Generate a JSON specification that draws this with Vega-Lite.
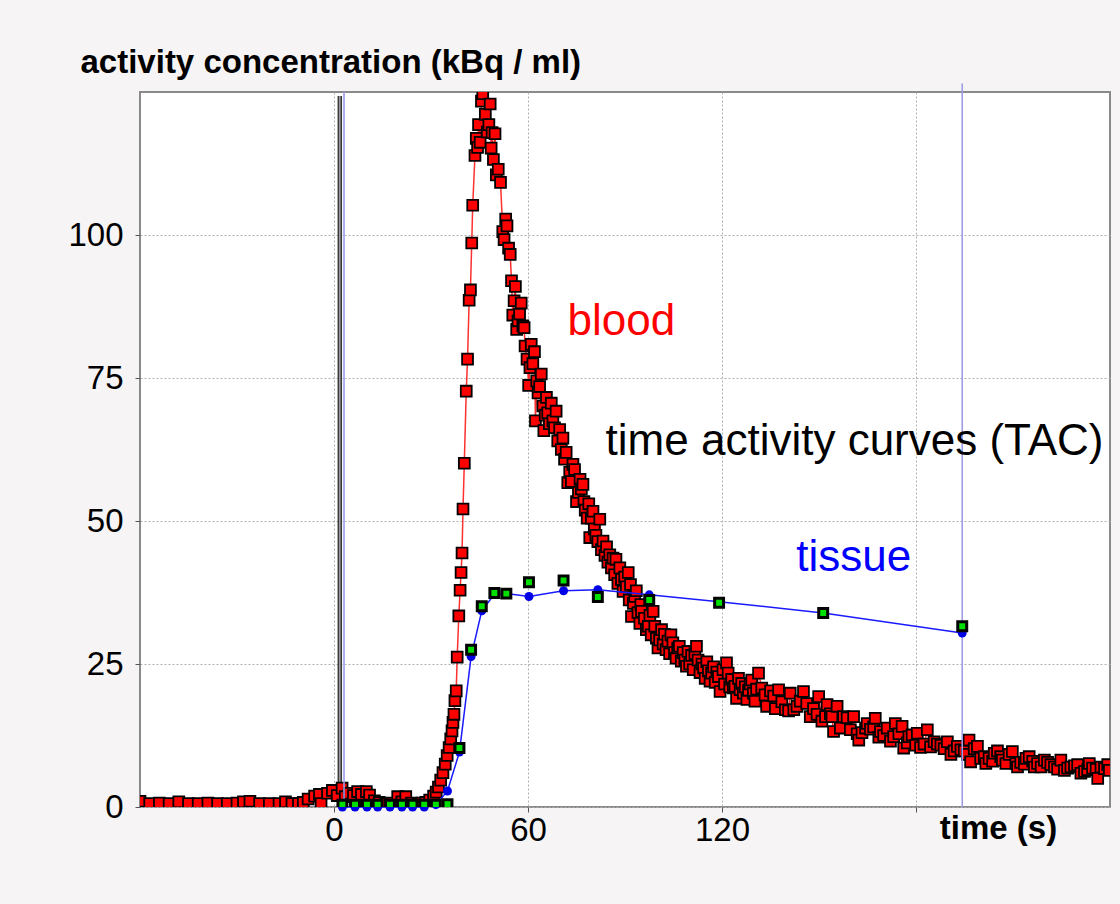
{
  "$schema": "https://vega.github.io/schema/vega-lite/v6.json",
  "width": 970,
  "height": 715,
  "autosize": {"type": "none"},
  "padding": {"left": 140, "top": 92, "right": 10, "bottom": 97},
  "background": "#f6f4f4",
  "config": {
    "view": {"fill": "#ffffff", "stroke": "#8a8a8a", "strokeWidth": 2},
    "font": "Liberation Sans",
    "axis": {
      "grid": true, "gridDash": [2, 2], "gridWidth": 1, "gridColor": "#b0b0b0",
      "domain": false, "ticks": true, "tickSize": 5, "tickColor": "#555555",
      "labelFont": "Liberation Sans", "labelFontSize": 33, "labelColor": "#000000",
      "titleFont": "Liberation Sans", "titleFontSize": 33, "titleFontWeight": "bold", "titleColor": "#000000"
    }
  },
  "datasets": {
    "blood": [
      {"t":-60,"v":1.0},{"t":-57,"v":0.6},{"t":-54,"v":0.7},{"t":-51,"v":0.6},{"t":-48,"v":0.9},{"t":-45,"v":0.6},{"t":-42,"v":0.6},{"t":-39,"v":0.7},{"t":-36,"v":0.6},{"t":-33,"v":0.6},{"t":-30,"v":0.7},{"t":-28,"v":0.9},{"t":-26,"v":1.0},{"t":-23,"v":0.6},{"t":-20,"v":0.6},{"t":-17,"v":0.6},{"t":-15,"v":0.9},{"t":-13,"v":0.6},{"t":-11,"v":0.6},{"t":-9.5,"v":0.8},{"t":-8,"v":1.4},{"t":-6,"v":1.9},{"t":-4.5,"v":2.2},{"t":-4,"v":0.6},{"t":-2,"v":2.4},{"t":-0.5,"v":2.9},{"t":1,"v":2.0},{"t":2.5,"v":3.3},{"t":3.5,"v":1.8},{"t":4.7,"v":2.4},{"t":6,"v":2.0},{"t":7.3,"v":2.7},{"t":8.5,"v":2.2},{"t":10,"v":2.7},{"t":11,"v":2.1},{"t":12.5,"v":1.1},{"t":14,"v":0.8},{"t":16,"v":0.6},{"t":18,"v":0.7},{"t":19.7,"v":1.8},{"t":21,"v":0.9},{"t":22.2,"v":1.8},{"t":24,"v":0.7},{"t":26,"v":0.6},{"t":27.2,"v":0.7},
      {"t":28.4,"v":0.8},{"t":29.6,"v":1.2},{"t":30.8,"v":1.9},{"t":31.6,"v":2.6},{"t":32.3,"v":3.5},{"t":33.0,"v":4.7},{"t":33.7,"v":6.0},{"t":34.4,"v":7.5},{"t":35.0,"v":9.0},{"t":35.6,"v":10.4},{"t":36.1,"v":11.9},{"t":36.5,"v":13.3},{"t":36.8,"v":14.8},{"t":37.1,"v":16.2},{"t":37.4,"v":18.6},{"t":37.8,"v":20.3},{"t":38.1,"v":26.2},{"t":38.6,"v":33.4},{"t":39.0,"v":37.9},{"t":39.3,"v":41.0},{"t":39.6,"v":44.4},{"t":39.9,"v":52.1},{"t":40.3,"v":60.1},{"t":40.9,"v":72.7},{"t":41.3,"v":78.3},{"t":41.8,"v":88.6},{"t":42.2,"v":90.4},{"t":42.6,"v":98.6},{"t":42.9,"v":105.2},{"t":43.6,"v":113.9},{"t":44.0,"v":116.9},{"t":44.4,"v":115.3},{"t":44.7,"v":119.3},{"t":45.2,"v":116.2},{"t":45.6,"v":123.4},{"t":46.0,"v":124.7},
      {"t":46.8,"v":121.1},{"t":47.4,"v":118.0},{"t":47.9,"v":119.3},{"t":48.3,"v":122.9},{"t":48.6,"v":115.2},{"t":48.9,"v":117.9},{"t":49.3,"v":113.2},{"t":49.8,"v":117.7},{"t":50.2,"v":110.5},{"t":50.8,"v":111.5},{"t":51.5,"v":109.2},{"t":52.2,"v":100.6},{"t":52.6,"v":99.2},{"t":53.1,"v":102.8},{"t":53.5,"v":101.6},{"t":54.0,"v":97.7},{"t":54.5,"v":96.6},{"t":54.9,"v":92.0},{"t":55.3,"v":86.0},{"t":55.7,"v":88.5},{"t":56.1,"v":91.0},{"t":56.5,"v":83.5},{"t":56.9,"v":85.0},{"t":57.4,"v":86.2},{"t":57.9,"v":88.1},{"t":58.4,"v":84.1},{"t":58.8,"v":83.8},{"t":59.1,"v":80.6},{"t":59.7,"v":78.3},{"t":60.2,"v":73.7},{"t":60.6,"v":76.8},{"t":61.0,"v":80.9},{"t":61.5,"v":77.5},{"t":62.0,"v":79.6},{"t":62.3,"v":67.5},{"t":62.7,"v":74.5},{"t":63.1,"v":72.4},{"t":63.6,"v":73.5},{"t":64.1,"v":75.7},{"t":64.6,"v":70.1},{"t":64.9,"v":65.8},{"t":65.3,"v":68.5},{"t":65.7,"v":71.6},{"t":66.1,"v":68.9},{"t":66.6,"v":67.0},{"t":67.2,"v":70.6},{"t":67.7,"v":67.5},{"t":68.2,"v":66.3},{"t":68.7,"v":69.2},{"t":69.2,"v":64.0},{"t":69.8,"v":66.0},{"t":70.3,"v":62.5},{"t":70.8,"v":64.5},{"t":71.3,"v":60.8},{"t":71.8,"v":62.0},{"t":72.3,"v":56.7},{"t":72.9,"v":58.5},{"t":73.4,"v":56.9},{"t":73.9,"v":59.9},{"t":74.4,"v":59.0},{"t":75.0,"v":53.4},{"t":75.6,"v":55.0},{"t":76.1,"v":57.3},{"t":76.5,"v":55.6},{"t":77.0,"v":56.4},{"t":77.3,"v":53.4},{"t":77.7,"v":51.9},{"t":78.3,"v":50.5},{"t":78.8,"v":53.0},{"t":79.1,"v":47.1},{"t":79.6,"v":50.5},{"t":80.1,"v":51.7},{"t":80.5,"v":48.6},{"t":81.0,"v":47.5},{"t":81.6,"v":46.4},{"t":82.2,"v":50.3},{"t":82.7,"v":45.0},{"t":83.2,"v":46.5},{"t":83.8,"v":44.0},{"t":84.3,"v":45.5},{"t":84.7,"v":42.8},{"t":85.3,"v":44.1},{"t":85.8,"v":41.8},{"t":86.3,"v":43.5},{"t":86.8,"v":40.6},{"t":87.2,"v":43.3},{"t":87.8,"v":39.1},{"t":88.4,"v":41.8},{"t":88.9,"v":39.8},{"t":89.4,"v":37.7},{"t":89.9,"v":40.2},{"t":90.4,"v":38.5},{"t":91.0,"v":41.0},{"t":91.3,"v":36.2},{"t":91.7,"v":38.9},{"t":92.0,"v":33.3},{"t":92.6,"v":35.6},{"t":93.0,"v":36.8},{"t":93.5,"v":37.8},{"t":94.0,"v":34.0},{"t":94.6,"v":32.1},{"t":94.9,"v":35.4},{"t":95.1,"v":34.2},{"t":96.0,"v":33.0},{"t":96.6,"v":31.0},{"t":97.2,"v":31.6},{"t":97.7,"v":33.5},{"t":98.1,"v":30.1},{"t":98.7,"v":34.2},{"t":99.2,"v":31.6},{"t":99.7,"v":29.5},{"t":100.2,"v":27.8},{"t":100.7,"v":29.2},{"t":101.3,"v":31.0},{"t":101.8,"v":28.5},{"t":102.2,"v":30.2},{"t":102.7,"v":27.5},{"t":103.3,"v":29.0},{"t":103.8,"v":26.8},{"t":104.2,"v":30.1},{"t":104.8,"v":28.7},{"t":105.3,"v":27.0},{"t":105.8,"v":26.0},{"t":106.3,"v":27.8},{"t":106.8,"v":28.1},{"t":107.4,"v":25.5},{"t":108.0,"v":27.0},{"t":108.5,"v":25.7},{"t":109.0,"v":24.6},{"t":109.5,"v":27.2},{"t":110.0,"v":25.0},{"t":110.6,"v":26.5},{"t":111.1,"v":24.0},{"t":111.6,"v":26.8},{"t":112.1,"v":28.1},{"t":112.6,"v":25.7},{"t":113.2,"v":23.5},{"t":113.8,"v":25.0},{"t":114.3,"v":24.3},{"t":114.8,"v":22.5},{"t":115.3,"v":25.4},{"t":115.8,"v":23.8},{"t":116.3,"v":22.0},{"t":116.8,"v":23.4},{"t":117.4,"v":24.5},{"t":117.9,"v":21.8},{"t":118.4,"v":23.6},{"t":118.9,"v":22.8},{"t":119.4,"v":20.2},{"t":120.3,"v":24.0},{"t":120.8,"v":21.5},{"t":121.4,"v":25.2},{"t":121.9,"v":23.4},{"t":122.4,"v":21.0},{"t":123.0,"v":22.3},{"t":123.5,"v":20.8},{"t":124.0,"v":21.1},{"t":124.5,"v":19.0},{"t":125.1,"v":22.5},{"t":125.6,"v":20.5},{"t":126.1,"v":21.6},{"t":126.6,"v":19.9},{"t":127.2,"v":21.0},{"t":127.7,"v":18.8},{"t":128.2,"v":20.4},{"t":128.7,"v":21.5},{"t":129.2,"v":22.2},{"t":129.7,"v":19.9},{"t":130.2,"v":18.5},{"t":130.7,"v":20.6},
      {"t":131.3,"v":23.4},{"t":132.3,"v":20.8},{"t":133.3,"v":19.6},{"t":133.8,"v":17.6},{"t":135.0,"v":20.3},{"t":136.0,"v":19.4},{"t":136.5,"v":17.2},{"t":137.5,"v":20.5},{"t":138.5,"v":18.4},{"t":139.6,"v":17.0},{"t":140.6,"v":16.8},{"t":141.1,"v":19.9},{"t":142.2,"v":17.0},{"t":143.2,"v":17.6},{"t":144.2,"v":18.5},{"t":145.2,"v":20.2},{"t":146.2,"v":18.1},{"t":147.3,"v":15.8},{"t":148.3,"v":17.2},{"t":149.4,"v":16.2},{"t":149.9,"v":19.3},{"t":150.9,"v":15.0},{"t":152.0,"v":15.8},{"t":152.5,"v":17.9},{"t":153.5,"v":16.3},{"t":154.0,"v":15.8},{"t":154.5,"v":13.2},{"t":155.6,"v":17.6},{"t":156.6,"v":13.8},{"t":157.6,"v":15.8},{"t":158.7,"v":15.6},{"t":159.7,"v":13.5},{"t":160.7,"v":15.8},{"t":161.8,"v":12.8},{"t":162.3,"v":11.7},{"t":163.3,"v":13.0},{"t":164.4,"v":13.8},{"t":164.9,"v":14.6},{"t":165.9,"v":13.6},{"t":166.9,"v":14.0},{"t":167.4,"v":15.5},{"t":168.5,"v":12.2},{"t":169.0,"v":13.2},{"t":170.0,"v":12.5},{"t":171.1,"v":13.8},{"t":172.1,"v":11.5},{"t":173.1,"v":12.3},{"t":173.6,"v":14.6},{"t":174.7,"v":12.8},{"t":175.7,"v":14.1},{"t":176.2,"v":10.3},{"t":177.3,"v":11.2},{"t":177.8,"v":12.3},{"t":178.8,"v":12.6},{"t":179.9,"v":10.8},{"t":180.4,"v":12.9},{"t":181.4,"v":10.4},{"t":182.5,"v":11.0},{"t":183.5,"v":13.5},{"t":184.5,"v":10.5},{"t":185.6,"v":11.4},{"t":186.6,"v":11.0},{"t":187.7,"v":10.8},{"t":188.7,"v":10.2},{"t":189.7,"v":11.4},{"t":190.8,"v":9.2},{"t":191.8,"v":9.8},{"t":192.8,"v":10.6},{"t":193.9,"v":10.0},{"t":194.9,"v":9.8},{"t":195.9,"v":9.2},{"t":196.4,"v":11.7},{"t":196.9,"v":7.9},{"t":198.0,"v":10.2},{"t":199.0,"v":10.6},{"t":200.0,"v":8.5},{"t":201.1,"v":8.8},{"t":201.6,"v":7.6},{"t":202.6,"v":8.5},{"t":203.7,"v":8.0},{"t":204.2,"v":9.4},{"t":205.2,"v":9.8},{"t":206.2,"v":8.8},{"t":206.7,"v":8.2},{"t":207.8,"v":7.6},{"t":208.8,"v":9.2},{"t":209.8,"v":9.7},{"t":210.9,"v":7.6},{"t":211.4,"v":7.0},{"t":212.4,"v":7.8},{"t":213.5,"v":7.5},{"t":214.0,"v":8.5},{"t":215.0,"v":8.8},{"t":216.1,"v":8.0},{"t":216.6,"v":7.0},{"t":217.6,"v":7.6},{"t":218.7,"v":7.0},{"t":219.7,"v":8.2},{"t":220.7,"v":7.8},{"t":221.7,"v":7.4},{"t":222.8,"v":7.0},{"t":223.8,"v":6.6},{"t":224.8,"v":8.2},{"t":225.9,"v":6.4},{"t":226.9,"v":6.8},{"t":227.9,"v":7.0},{"t":229.0,"v":7.2},{"t":230.0,"v":7.4},{"t":231.0,"v":5.9},{"t":232.1,"v":6.2},{"t":233.1,"v":6.5},{"t":233.6,"v":7.6},{"t":234.6,"v":6.8},{"t":235.7,"v":6.6},{"t":236.2,"v":5.0},{"t":237.2,"v":7.0},{"t":238.3,"v":6.7},{"t":239.3,"v":7.4},{"t":239.8,"v":6.4}
    ],
    "tissue": [
      {"t":2.6,"fit":0,"meas":0.4},{"t":6.5,"fit":0,"meas":0.4},{"t":10.2,"fit":0,"meas":0.4},{"t":13.5,"fit":0,"meas":0.4},{"t":17.3,"fit":0,"meas":0.4},{"t":21.0,"fit":0,"meas":0.4},{"t":24.3,"fit":0,"meas":0.4},{"t":27.9,"fit":0,"meas":0.4},{"t":31.5,"fit":0.4,"meas":0.4},{"t":35.1,"fit":2.8,"meas":0.5},{"t":38.8,"fit":9.6,"meas":10.3},{"t":42.4,"fit":26.3,"meas":27.5},{"t":45.7,"fit":34.3,"meas":35.1},{"t":49.6,"fit":37.2,"meas":37.4},{"t":53.3,"fit":37.3,"meas":37.3},{"t":60.3,"fit":36.8,"meas":39.3},{"t":71.0,"fit":37.8,"meas":39.6},{"t":81.6,"fit":38.0,"meas":36.7},{"t":97.5,"fit":37.1,"meas":36.2},{"t":119.1,"fit":35.9,"meas":35.7},{"t":151.3,"fit":33.9,"meas":33.9},{"t":194.3,"fit":30.4,"meas":31.6}
    ],
    "markers": [
      {"t":1.8,"y1":0,"y2":124.3,"kind":"frame"},
      {"t":3.1,"y1":0,"y2":125,"kind":"cursor"},
      {"t":194.3,"y1":0,"y2":126.5,"kind":"cursor"}
    ],
    "labels": [
      {"t":72.2,"v":82.5,"text":"blood"},
      {"t":84.0,"v":61.5,"text":"time activity curves (TAC)"},
      {"t":143.0,"v":41.2,"text":"tissue"}
    ]
  },
  "encoding": {
    "x": {
      "field": "t", "type": "quantitative",
      "scale": {"domain": [-60, 240], "nice": false, "zero": false},
      "axis": {
        "values": [0, 60, 120, 180],
        "labelExpr": "datum.value <= 120 ? datum.label : ''",
        "labelPadding": 2,
        "title": "time (s)",
        "titleX": 858, "titleY": 21, "titleAlign": "center", "titleBaseline": "middle"
      }
    }
  },
  "layer": [
    {
      "data": {"name": "markers"},
      "transform": [{"filter": "datum.kind == 'frame'"}],
      "mark": {"type": "rule", "color": "#3a3a3a", "strokeWidth": 4.5},
      "encoding": {
        "y": {
          "field": "y1", "type": "quantitative",
          "scale": {"domain": [0, 125], "nice": false, "zero": false},
          "axis": {"values": [0, 25, 50, 75, 100], "labelPadding": 12, "title": "activity concentration (kBq / ml)", "titleAngle": 0, "titleX": -60, "titleY": -30, "titleAlign": "left", "titleBaseline": "middle"}
        },
        "y2": {"field": "y2"}
      }
    },
    {
      "data": {"name": "markers"},
      "transform": [{"filter": "datum.kind == 'frame'"}],
      "mark": {"type": "rule", "color": "#b8b8b8", "strokeWidth": 1.2},
      "encoding": {
        "y": {
          "field": "y1", "type": "quantitative",
          "scale": {"domain": [0, 125], "nice": false, "zero": false},
          "axis": {"values": [0, 25, 50, 75, 100], "labelPadding": 12, "title": "activity concentration (kBq / ml)", "titleAngle": 0, "titleX": -60, "titleY": -30, "titleAlign": "left", "titleBaseline": "middle"}
        },
        "y2": {"field": "y2"}
      }
    },
    {
      "data": {"name": "blood"},
      "mark": {"type": "line", "color": "#ff3030", "strokeWidth": 1.5, "clip": true},
      "encoding": {
        "y": {
          "field": "v", "type": "quantitative",
          "scale": {"domain": [0, 125], "nice": false, "zero": false},
          "axis": {"values": [0, 25, 50, 75, 100], "labelPadding": 12, "title": "activity concentration (kBq / ml)", "titleAngle": 0, "titleX": -60, "titleY": -30, "titleAlign": "left", "titleBaseline": "middle"}
        }
      }
    },
    {
      "data": {"name": "blood"},
      "mark": {"type": "square", "filled": true, "fill": "#ff0000", "stroke": "#000000", "strokeWidth": 1.8, "size": 118, "opacity": 1, "clip": true},
      "encoding": {
        "y": {
          "field": "v", "type": "quantitative",
          "scale": {"domain": [0, 125], "nice": false, "zero": false},
          "axis": {"values": [0, 25, 50, 75, 100], "labelPadding": 12, "title": "activity concentration (kBq / ml)", "titleAngle": 0, "titleX": -60, "titleY": -30, "titleAlign": "left", "titleBaseline": "middle"}
        }
      }
    },
    {
      "data": {"name": "markers"},
      "transform": [{"filter": "datum.kind == 'cursor'"}],
      "mark": {"type": "rule", "color": "#9d9de6", "strokeWidth": 1.6},
      "encoding": {
        "y": {
          "field": "y1", "type": "quantitative",
          "scale": {"domain": [0, 125], "nice": false, "zero": false},
          "axis": {"values": [0, 25, 50, 75, 100], "labelPadding": 12, "title": "activity concentration (kBq / ml)", "titleAngle": 0, "titleX": -60, "titleY": -30, "titleAlign": "left", "titleBaseline": "middle"}
        },
        "y2": {"field": "y2"}
      }
    },
    {
      "data": {"name": "tissue"},
      "mark": {"type": "line", "color": "#1a1aff", "strokeWidth": 1.5},
      "encoding": {
        "y": {
          "field": "fit", "type": "quantitative",
          "scale": {"domain": [0, 125], "nice": false, "zero": false},
          "axis": {"values": [0, 25, 50, 75, 100], "labelPadding": 12, "title": "activity concentration (kBq / ml)", "titleAngle": 0, "titleX": -60, "titleY": -30, "titleAlign": "left", "titleBaseline": "middle"}
        }
      }
    },
    {
      "data": {"name": "tissue"},
      "mark": {"type": "circle", "fill": "#0000e6", "size": 80, "opacity": 1},
      "encoding": {
        "y": {
          "field": "fit", "type": "quantitative",
          "scale": {"domain": [0, 125], "nice": false, "zero": false},
          "axis": {"values": [0, 25, 50, 75, 100], "labelPadding": 12, "title": "activity concentration (kBq / ml)", "titleAngle": 0, "titleX": -60, "titleY": -30, "titleAlign": "left", "titleBaseline": "middle"}
        }
      }
    },
    {
      "data": {"name": "tissue"},
      "mark": {"type": "square", "filled": true, "fill": "#00e000", "stroke": "#000000", "strokeWidth": 3, "size": 80, "opacity": 1, "clip": true},
      "encoding": {
        "y": {
          "field": "meas", "type": "quantitative",
          "scale": {"domain": [0, 125], "nice": false, "zero": false},
          "axis": {"values": [0, 25, 50, 75, 100], "labelPadding": 12, "title": "activity concentration (kBq / ml)", "titleAngle": 0, "titleX": -60, "titleY": -30, "titleAlign": "left", "titleBaseline": "middle"}
        }
      }
    },
    {
      "data": {"name": "labels"},
      "mark": {"type": "text", "align": "left", "baseline": "alphabetic", "font": "Liberation Sans", "fontSize": 44},
      "encoding": {
        "y": {
          "field": "v", "type": "quantitative",
          "scale": {"domain": [0, 125], "nice": false, "zero": false},
          "axis": {"values": [0, 25, 50, 75, 100], "labelPadding": 12, "title": "activity concentration (kBq / ml)", "titleAngle": 0, "titleX": -60, "titleY": -30, "titleAlign": "left", "titleBaseline": "middle"}
        },
        "text": {"field": "text"},
        "color": {
          "field": "text", "type": "nominal",
          "scale": {"domain": ["blood", "time activity curves (TAC)", "tissue"], "range": ["#ff0000", "#000000", "#0000ff"]},
          "legend": null
        }
      }
    }
  ]
}
